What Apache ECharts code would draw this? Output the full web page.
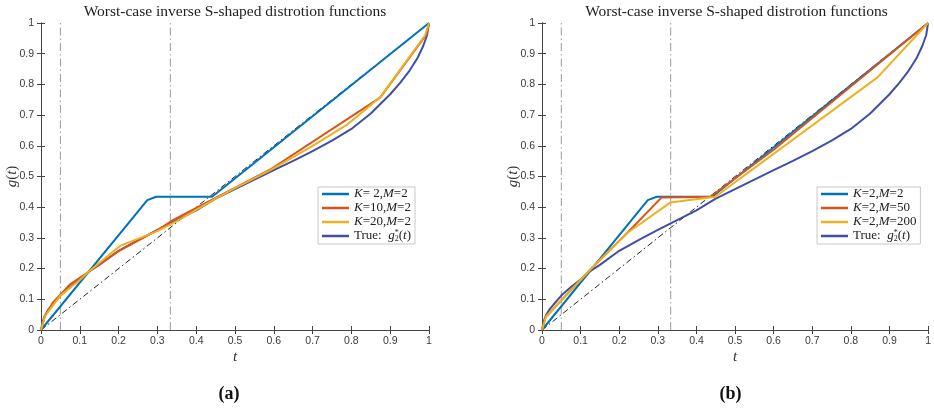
<!DOCTYPE html>
<html>
<head>
<meta charset="utf-8">
<script src="https://cdn.jsdelivr.net/npm/echarts@6/dist/echarts.min.js"></script>
<style>
  html, body { margin: 0; padding: 0; background: #fff; }
  #chart { width: 934px; height: 412px; }
</style>
</head>
<body>
<div id="chart"></div>
<script>
// ---- data -------------------------------------------------------------
// true distortion g2*(t), sampled
const tTrue = [0, 0.005, 0.01, 0.02, 0.03, 0.05, 0.075, 0.1, 0.125, 0.15, 0.2, 0.25, 0.3, 0.35, 0.4, 0.45, 0.5, 0.55, 0.6, 0.65, 0.7, 0.75, 0.8, 0.85, 0.9, 0.925, 0.95, 0.97, 0.985, 0.995, 1];
const gTrue = [0, 0.03, 0.047, 0.068, 0.083, 0.112, 0.14, 0.164, 0.192, 0.212, 0.258, 0.293, 0.326, 0.358, 0.39, 0.428, 0.459, 0.49, 0.521, 0.551, 0.583, 0.617, 0.655, 0.705, 0.768, 0.804, 0.845, 0.885, 0.925, 0.96, 1];

// K=2, M=2 (shared by both panels)
const tK2M2 = [0, 0.274, 0.297, 0.441, 1];
const gK2M2 = [0, 0.423, 0.434, 0.434, 1];

// panel (a): K=10, M=2
const tK10M2 = [0, 0.01, 0.03, 0.074, 0.121, 0.2, 0.3, 0.34, 0.45, 0.59, 0.874, 0.993, 1];
const gK10M2 = [0, 0.045, 0.088, 0.148, 0.188, 0.257, 0.325, 0.358, 0.43, 0.522, 0.757, 0.962, 1];

// panel (a): K=20, M=2
const tK20M2 = [0, 0.01, 0.05, 0.1, 0.121, 0.205, 0.3, 0.35, 0.45, 0.5, 0.59, 0.7, 0.788, 0.874, 0.99, 1];
const gK20M2 = [0, 0.045, 0.112, 0.163, 0.188, 0.275, 0.322, 0.355, 0.428, 0.462, 0.52, 0.6, 0.668, 0.758, 0.96, 1];

// panel (b): K=2, M=50
const tK2M50 = [0, 0.01, 0.126, 0.22, 0.31, 0.436, 0.6, 1];
const gK2M50 = [0, 0.043, 0.198, 0.315, 0.432, 0.434, 0.587, 1];

// panel (b): K=2, M=200
const tK2M200 = [0, 0.01, 0.126, 0.22, 0.332, 0.449, 0.869, 1];
const gK2M200 = [0, 0.043, 0.198, 0.315, 0.415, 0.434, 0.823, 1];

// reference lines: identity and two vertical markers
const identityT = [0, 1];
const markerT = [0.05, 1 / 3];

const tickValues = [0, 0.1, 0.2, 0.3, 0.4, 0.5, 0.6, 0.7, 0.8, 0.9, 1];
const titleText = 'Worst-case inverse S-shaped distrotion functions';
const panelTags = ['(a)', '(b)'];

// ---- styling helpers --------------------------------------------------
const COLORS = { blue: '#0072BD', red: '#D95319', yellow: '#EDB120', truth: '#3F4FA6' };
const SERIF = '"Liberation Serif", "DejaVu Serif", serif';
const SANS = '"Liberation Sans", Arial, sans-serif';
const AXIS_COLOR = '#444';

const zip = (t, g) => t.map((x, i) => [x, g[i]]);

const grids = [
  { left: 41, top: 23, width: 388, height: 307 },
  { left: 542, top: 23, width: 389, height: 307 }
];

function axisBase(extra) {
  return Object.assign({
    type: 'value', min: 0, max: 1, interval: 0.1,
    axisLine: { show: true, lineStyle: { color: AXIS_COLOR, width: 1 } },
    axisTick: { show: true, inside: true, length: 4, lineStyle: { color: AXIS_COLOR } },
    splitLine: { show: false },
    axisLabel: { show: false }
  }, extra);
}
const labelFmt = v => String(+v.toFixed(1));
const tickLabelStyle = { show: true, fontSize: 10.5, fontFamily: SANS, color: '#3a3a3a', formatter: labelFmt };

const xAxes = [], yAxes = [];
grids.forEach((g, gi) => {
  xAxes.push(axisBase({
    gridIndex: gi, position: 'bottom',
    axisLabel: Object.assign({ margin: 6 }, tickLabelStyle),
    name: '{i|t}', nameLocation: 'middle', nameGap: 20, nameMoveOverlap: false,
    nameTextStyle: { rich: { i: { fontFamily: SERIF, fontStyle: 'italic', fontSize: 15, color: '#333' } } }
  }));
  xAxes.push(axisBase({ gridIndex: gi, position: 'top' }));
  yAxes.push(axisBase({
    gridIndex: gi, position: 'left',
    axisLabel: Object.assign({ margin: 7 }, tickLabelStyle),
    name: '{i|g}{n|(}{i|t}{n|)}', nameLocation: 'middle', nameGap: 21, nameMoveOverlap: false,
    nameTextStyle: { rich: {
      i: { fontFamily: SERIF, fontStyle: 'italic', fontSize: 15, color: '#333' },
      n: { fontFamily: SERIF, fontSize: 15, color: '#333' }
    } }
  }));
  yAxes.push(axisBase({ gridIndex: gi, position: 'right' }));
});

function curve(name, t, g, color, panel) {
  return {
    name, type: 'line', data: zip(t, g), showSymbol: false, symbol: 'none',
    xAxisIndex: panel * 2, yAxisIndex: panel * 2,
    lineStyle: { color, width: 2 }, itemStyle: { color },
    emphasis: { disabled: true }, z: 3
  };
}
function guide(data, color, dash, panel) {
  return {
    type: 'line', data, showSymbol: false, symbol: 'none', silent: true,
    xAxisIndex: panel * 2, yAxisIndex: panel * 2,
    lineStyle: { color, width: 1, type: dash }, z: 2
  };
}

const series = [];
[0, 1].forEach(p => {
  markerT.forEach(m => series.push(guide([[m, 0], [m, 1]], '#9a9a9a', [8, 3, 1.5, 3], p)));
  series.push(guide(identityT.map(v => [v, v]), '#222', [6, 3, 1.5, 3], p));
});

// panel (a)
series.push(curve('True', tTrue, gTrue, COLORS.truth, 0));
series.push(curve('K= 2,M=2', tK2M2, gK2M2, COLORS.blue, 0));
series.push(curve('K=10,M=2', tK10M2, gK10M2, COLORS.red, 0));
series.push(curve('K=20,M=2', tK20M2, gK20M2, COLORS.yellow, 0));
// panel (b)
series.push(curve('True ', tTrue, gTrue, COLORS.truth, 1));
series.push(curve('K=2,M=2', tK2M2, gK2M2, COLORS.blue, 1));
series.push(curve('K=2,M=50', tK2M50, gK2M50, COLORS.red, 1));
series.push(curve('K=2,M=200', tK2M200, gK2M200, COLORS.yellow, 1));

// legend text: italic K, M and g; upright digits and signs
function legendRich(name) {
  if (name.trim() === 'True') {
    return '{n|True:  }{i|g}{sup|*}{sub|2}{n|(}{i|t}{n|)}';
  }
  return name.replace(/([KM])|([^KM]+)/g, (m, letter, rest) =>
    letter ? '{i|' + letter + '}' : '{n|' + rest + '}');
}

const legendText = {
  fontFamily: SERIF, fontSize: 13, color: '#222', lineHeight: 14,
  rich: {
    i: { fontFamily: SERIF, fontStyle: 'italic', fontSize: 13, color: '#222', lineHeight: 14 },
    n: { fontFamily: SERIF, fontSize: 13, color: '#222', lineHeight: 14 },
    sup: { fontFamily: SERIF, fontSize: 8, color: '#222', verticalAlign: 'top', width: 0.01, lineHeight: 14 },
    sub: { fontFamily: SERIF, fontSize: 8, color: '#222', verticalAlign: 'bottom', lineHeight: 14 }
  }
};

function legend(left, names) {
  return {
    orient: 'vertical', left, top: 187, data: names,
    icon: 'rect', itemWidth: 27, itemHeight: 2.5, itemGap: 0,
    padding: [0, 4, 1, 4], backgroundColor: '#fff',
    borderColor: '#c8c8c8', borderWidth: 1, borderRadius: 0,
    selectedMode: false, formatter: legendRich, textStyle: legendText
  };
}

const graphics = [];
grids.forEach((g, i) => {
  const cx = g.left + g.width / 2;
  graphics.push({ type: 'text', x: cx, y: 12, silent: true,
    style: { text: titleText, font: '15.5px ' + SERIF, fill: '#222', align: 'center', verticalAlign: 'middle' } });
  graphics.push({ type: 'text', x: cx - 6, y: 394, silent: true,
    style: { text: panelTags[i], font: 'bold 18px ' + SERIF, fill: '#111', align: 'center', verticalAlign: 'middle' } });
});

const chart = echarts.init(document.getElementById('chart'), null, { renderer: 'canvas' });
chart.setOption({
  animation: false,
  backgroundColor: '#fff',
  grid: grids,
  xAxis: xAxes,
  yAxis: yAxes,
  legend: [
    legend(318, ['K= 2,M=2', 'K=10,M=2', 'K=20,M=2', 'True']),
    legend(817, ['K=2,M=2', 'K=2,M=50', 'K=2,M=200', 'True '])
  ],
  graphic: graphics,
  series
});
</script>
</body>
</html>
